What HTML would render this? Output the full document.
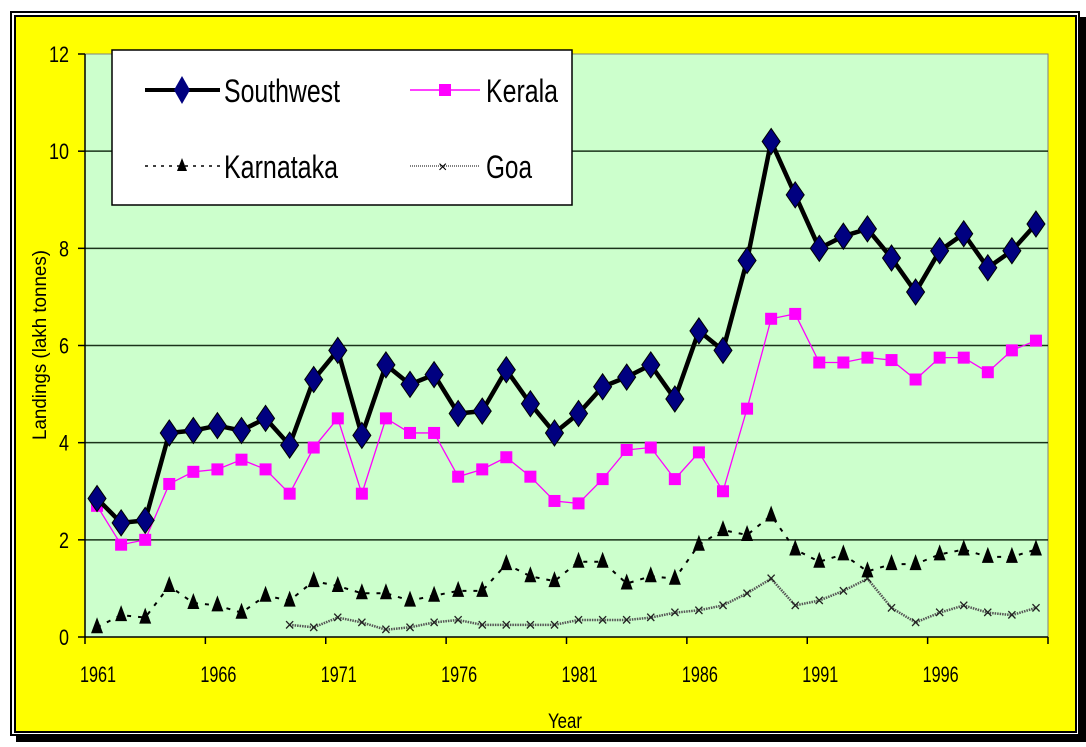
<!DOCTYPE html>
<html><head><meta charset="utf-8"><style>
body{margin:0;background:#fff;width:1086px;height:742px;overflow:hidden;font-family:"Liberation Sans",sans-serif}
</style></head><body>
<svg width="1086" height="742" xmlns="http://www.w3.org/2000/svg">
<rect x="16" y="17" width="1070" height="725" fill="#000"/>
<rect x="11" y="12" width="1068" height="723" fill="#fff" stroke="#000" stroke-width="2"/>
<rect x="15" y="16" width="1061" height="716" fill="#ffff00" stroke="#000" stroke-width="2"/>
<rect x="85" y="54" width="963" height="583" fill="#ccffcc" stroke="#808080" stroke-width="1"/>
<g id="grid"></g><g id="axes"></g><g id="series"></g>
<text x="0" y="0" transform="translate(46,345) rotate(-90)" font-size="19" text-anchor="middle" fill="#000" textLength="190" lengthAdjust="spacingAndGlyphs">Landings (lakh tonnes)</text>
<text x="548" y="728" font-size="21" textLength="34" lengthAdjust="spacingAndGlyphs">Year</text>
<g>
<rect x="112" y="50" width="460" height="155" fill="#fff" stroke="#000" stroke-width="1.5"/>
<line x1="145" y1="90" x2="220" y2="90" stroke="#000" stroke-width="4"/>
<polygon points="182,76 190,90 182,104 174,90" fill="#000080"/>
<text x="224" y="102" font-size="32" textLength="116" lengthAdjust="spacingAndGlyphs">Southwest</text>
<line x1="410" y1="90" x2="480" y2="90" stroke="#ff00ff" stroke-width="1.5"/>
<rect x="439" y="84" width="12" height="12" fill="#ff00ff"/>
<text x="486" y="102" font-size="32" textLength="72" lengthAdjust="spacingAndGlyphs">Kerala</text>
<line x1="145" y1="166" x2="220" y2="166" stroke="#000" stroke-width="1.5" stroke-dasharray="3,5"/>
<polygon points="182,158 187,171 177,171" fill="#000"/>
<text x="224" y="178" font-size="32" textLength="114" lengthAdjust="spacingAndGlyphs">Karnataka</text>
<line x1="410" y1="166" x2="480" y2="166" stroke="#555" stroke-width="1.5" stroke-dasharray="1,1"/>
<text x="438" y="172" font-size="16">×</text>
<text x="486" y="178" font-size="32" textLength="46" lengthAdjust="spacingAndGlyphs">Goa</text>
</g>
</svg>
<script>
const years=[];for(let y=1961;y<=2000;y++)years.push(y);
const southwest=[2.85,2.35,2.4,4.2,4.25,4.35,4.25,4.5,3.95,5.3,5.9,4.15,5.6,5.2,5.4,4.6,4.65,5.5,4.8,4.2,4.6,5.15,5.35,5.6,4.9,6.3,5.9,7.75,10.2,9.1,8.0,8.25,8.4,7.8,7.1,7.95,8.3,7.6,7.95,8.5];
const kerala=[2.7,1.9,2.0,3.15,3.4,3.45,3.65,3.45,2.95,3.9,4.5,2.95,4.5,4.2,4.2,3.3,3.45,3.7,3.3,2.8,2.75,3.25,3.85,3.9,3.25,3.8,3.0,4.7,6.55,6.65,5.65,5.65,5.75,5.7,5.3,5.75,5.75,5.45,5.9,6.1];
const karnataka=[0.2,0.45,0.4,1.05,0.7,0.65,0.5,0.85,0.75,1.15,1.05,0.9,0.9,0.75,0.85,0.95,0.95,1.5,1.25,1.15,1.55,1.55,1.1,1.25,1.2,1.9,2.2,2.1,2.5,1.8,1.55,1.7,1.35,1.5,1.5,1.7,1.8,1.65,1.65,1.8];
const goa=[null,null,null,null,null,null,null,null,0.25,0.2,0.4,0.3,0.15,0.2,0.3,0.35,0.25,0.25,0.25,0.25,0.35,0.35,0.35,0.4,0.5,0.55,0.65,0.9,1.2,0.65,0.75,0.95,1.2,0.6,0.3,0.5,0.65,0.5,0.45,0.6];
const yTicks=[0,2,4,6,8,10,12];
const xLabelYears=[1961,1966,1971,1976,1981,1986,1991,1996];
const L=85,R=1048,T=54,B=637,cw=(R-L)/years.length;
const xs=i=>L+(i+0.5)*cw, ys=v=>B-(v/12)*(B-T);
const NS="http://www.w3.org/2000/svg";
function mk(tag,attrs,parent){const e=document.createElementNS(NS,tag);for(const k in attrs)e.setAttribute(k,attrs[k]);parent.appendChild(e);return e;}
const grid=document.getElementById('grid'),axes=document.getElementById('axes'),ser=document.getElementById('series');
yTicks.forEach(v=>{
 if(v>0&&v<12){const g=mk('line',{x1:L,x2:R,y1:ys(v),y2:ys(v),stroke:'#1a331a','stroke-width':1.5},grid);
 
 }
 mk('line',{x1:L-7,x2:L,y1:ys(v),y2:ys(v),stroke:'#000','stroke-width':1.5},axes);
 const s=String(v);
 const t=mk('text',{x:L-16,y:ys(v)+8,'font-size':22,'text-anchor':'end',textLength:s.length*10,lengthAdjust:'spacingAndGlyphs'},axes);t.textContent=s;
 
 
});
mk('line',{x1:L,x2:L,y1:T,y2:B,stroke:'#000','stroke-width':1.5},axes);
mk('line',{x1:L,x2:R,y1:B,y2:B,stroke:'#000','stroke-width':1.5},axes);
for(let i=0;i<=years.length;i+=5){mk('line',{x1:L+i*cw,x2:L+i*cw,y1:B,y2:B+7,stroke:'#000','stroke-width':1.5},axes);}
xLabelYears.forEach(y=>{const i=years.indexOf(y);const t=mk('text',{x:xs(i)-17,y:B+45,'font-size':22,textLength:36,lengthAdjust:'spacingAndGlyphs'},axes);t.textContent=y;
 
 });
function path(arr){let d='',pen=false;arr.forEach((v,i)=>{if(v==null){pen=false;return;}d+=(pen?'L':'M')+xs(i)+','+ys(v);pen=true;});return d;}
let p;
p=mk('path',{d:path(goa),fill:'none',stroke:'#555','stroke-width':2.5,'stroke-dasharray':'1.5,1'},ser);


goa.forEach((v,i)=>{if(v==null)return;const t=mk('text',{x:xs(i),y:ys(v)+6,'font-size':18,'text-anchor':'middle',fill:'#222'},ser);t.textContent='×';
 
 });
p=mk('path',{d:path(karnataka),fill:'none',stroke:'#000','stroke-width':2,'stroke-dasharray':'4,7'},ser);


karnataka.forEach((v,i)=>{const x=xs(i),y=ys(v);const m=mk('polygon',{points:`${x},${y-10} ${x+6},${y+6} ${x-6},${y+6}`,fill:'#000'},ser);
 
 });
p=mk('path',{d:path(kerala),fill:'none',stroke:'#ff00ff','stroke-width':1.3},ser);


kerala.forEach((v,i)=>{const m=mk('rect',{x:xs(i)-6,y:ys(v)-6,width:12,height:12,fill:'#ff00ff'},ser);
 
 });
p=mk('path',{d:path(southwest),fill:'none',stroke:'#000','stroke-width':4.5,'stroke-linejoin':'round'},ser);


southwest.forEach((v,i)=>{const x=xs(i),y=ys(v);const m=mk('polygon',{points:`${x},${y-13} ${x+9},${y} ${x},${y+13} ${x-9},${y}`,fill:'#000080',stroke:'#000','stroke-width':1},ser);
 
 });
</script>
</body></html>
